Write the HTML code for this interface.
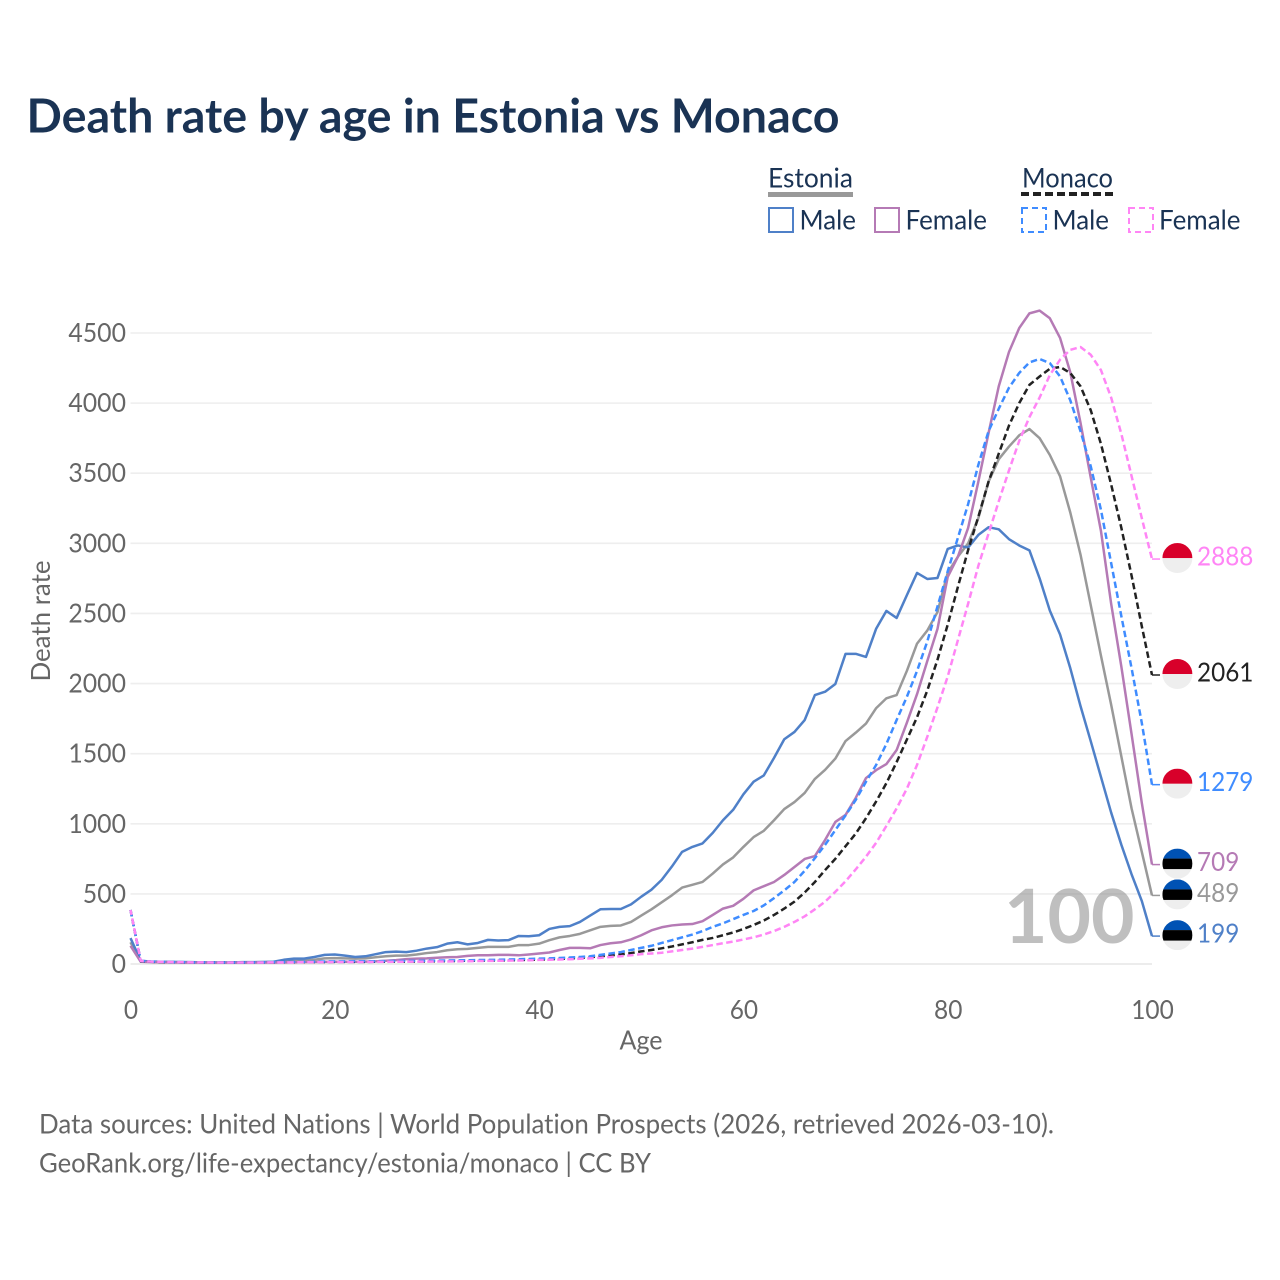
<!DOCTYPE html>
<html lang="en">
<head>
<meta charset="utf-8">
<title>Death rate by age in Estonia vs Monaco</title>
<style>
html,body{margin:0;padding:0;background:#fff;}
svg{display:block;}
text{font-family:"Lato","Carlito","Liberation Sans",sans-serif;font-variant-ligatures:none;}
</style>
</head>
<body>
<svg id="chart" xmlns="http://www.w3.org/2000/svg" width="1280" height="1280" viewBox="0 0 1280 1280">
  <text x="26.5" y="132.5" font-size="47" font-weight="700" fill="#1a3354" textLength="813" lengthAdjust="spacingAndGlyphs">Death rate by age in Estonia vs Monaco</text>

  <g>
    <g>
      <text x="768" y="187.5" font-size="27" fill="#1a3354" textLength="85" lengthAdjust="spacingAndGlyphs">Estonia</text>
      <rect x="768" y="192" width="85" height="5" fill="#999999"/>
    </g>
    <g>
      <text x="1022" y="187.5" font-size="27" fill="#1a3354" textLength="91" lengthAdjust="spacingAndGlyphs">Monaco</text>
      <line x1="1021" y1="194" x2="1113" y2="194" stroke="#222222" stroke-width="4" stroke-dasharray="8 4"/>
    </g>
    <g>
      <rect x="769" y="208" width="24" height="24" fill="none" stroke="#4f80c8" stroke-width="2"/>
      <text x="799.5" y="229.5" font-size="27" fill="#1a3354" textLength="56.5" lengthAdjust="spacingAndGlyphs">Male</text>
    </g>
    <g>
      <rect x="875" y="208" width="24" height="24" fill="none" stroke="#b57ab5" stroke-width="2"/>
      <text x="905.5" y="229.5" font-size="27" fill="#1a3354" textLength="81.5" lengthAdjust="spacingAndGlyphs">Female</text>
    </g>
    <g>
      <rect x="1022" y="208" width="24" height="24" fill="none" stroke="#3f8cff" stroke-width="2" stroke-dasharray="6 4"/>
      <text x="1052.5" y="229.5" font-size="27" fill="#1a3354" textLength="56.5" lengthAdjust="spacingAndGlyphs">Male</text>
    </g>
    <g>
      <rect x="1129" y="208" width="24" height="24" fill="none" stroke="#ff85f5" stroke-width="2" stroke-dasharray="6 4"/>
      <text x="1159" y="229.5" font-size="27" fill="#1a3354" textLength="81.5" lengthAdjust="spacingAndGlyphs">Female</text>
    </g>
  </g>

  <g id="grid"></g>
  <text x="1004" y="943" font-size="75" font-weight="700" fill="#808080" fill-opacity="0.5">100</text>
  <g id="yTicks"></g>
  <g id="xTicks"></g>
  <text transform="translate(50 621) rotate(-90)" text-anchor="middle" font-size="26" fill="#666666" textLength="121" lengthAdjust="spacingAndGlyphs">Death rate</text>
  <text x="641" y="1049.5" text-anchor="middle" font-size="26" fill="#666666" textLength="43" lengthAdjust="spacingAndGlyphs">Age</text>
  <g id="series"></g>
  <g id="ends"></g>

  <text x="39" y="1133.5" font-size="27" fill="#666666" textLength="1015" lengthAdjust="spacingAndGlyphs">Data sources: United Nations | World Population Prospects (2026, retrieved 2026-03-10).</text>
  <text x="39" y="1172.5" font-size="27" fill="#666666" textLength="612" lengthAdjust="spacingAndGlyphs">GeoRank.org/life-expectancy/estonia/monaco | CC BY</text>
</svg>
<script>
const ages = [
  0,1,2,3,4,5,6,7,8,9,
  10,11,12,13,14,15,16,17,18,19,
  20,21,22,23,24,25,26,27,28,29,
  30,31,32,33,34,35,36,37,38,39,
  40,41,42,43,44,45,46,47,48,49,
  50,51,52,53,54,55,56,57,58,59,
  60,61,62,63,64,65,66,67,68,69,
  70,71,72,73,74,75,76,77,78,79,
  80,81,82,83,84,85,86,87,88,89,
  90,91,92,93,94,95,96,97,98,99,
  100
];
const estoniaAll = [
  155,20,16,14,13,12,11,11,10,10,
  10,11,12,13,14,18,22,25,30,40,
  42,40,38,40,48,55,60,60,68,78,
  85,98,105,108,115,122,122,122,135,135,
  145,170,190,200,215,240,265,272,275,300,
  345,390,440,490,545,565,585,645,710,760,
  835,905,950,1025,1105,1155,1220,1320,1385,1465,
  1590,1650,1715,1825,1895,1918,2090,2285,2378,2510,
  2790,2905,3000,3180,3440,3600,3690,3770,3815,3750,
  3630,3478,3220,2920,2560,2200,1850,1480,1110,800,
  489
];
const estoniaMale = [
  185,22,18,16,15,14,13,12,12,12,
  12,13,13,14,16,30,38,38,50,65,
  68,60,50,55,70,85,88,85,95,110,
  120,145,155,140,150,172,168,170,200,198,
  205,250,265,270,300,345,390,392,392,425,
  480,530,600,695,800,835,860,935,1025,1100,
  1210,1300,1345,1470,1603,1655,1740,1918,1942,1997,
  2212,2212,2190,2392,2518,2468,2630,2789,2746,2753,
  2960,2985,2970,3060,3115,3100,3030,2985,2950,2750,
  2520,2350,2110,1840,1590,1335,1080,850,640,450,
  199
];
const estoniaFemale = [
  130,16,13,12,11,10,10,10,9,9,
  9,9,10,10,10,11,12,13,14,15,
  16,16,16,17,19,23,28,35,38,40,
  45,48,50,58,62,62,65,65,62,68,
  75,82,100,115,115,112,135,148,155,175,
  205,240,262,275,282,285,305,350,395,415,
  465,525,555,585,635,692,749,770,885,1013,
  1063,1185,1326,1383,1426,1526,1720,1925,2160,2390,
  2760,2905,3110,3440,3787,4120,4365,4535,4640,4660,
  4605,4465,4220,3860,3470,3090,2570,2120,1640,1150,
  709
];
const monacoAll = [
  385,20,16,14,13,12,12,11,11,11,
  11,11,12,12,12,13,13,14,14,14,
  15,15,15,15,16,16,17,17,18,19,
  20,21,22,23,24,25,26,27,28,30,
  32,34,37,40,44,48,55,62,68,78,
  90,100,112,125,140,155,172,186,205,225,
  250,278,310,350,395,445,510,585,670,750,
  840,930,1040,1160,1290,1440,1600,1760,1950,2170,
  2420,2690,2952,3190,3440,3640,3840,4000,4130,4190,
  4245,4258,4215,4120,3950,3710,3420,3110,2770,2410,
  2061
];
const monacoMale = [
  385,22,18,16,14,13,12,12,11,11,
  11,11,12,12,13,14,15,16,17,18,
  19,19,20,20,20,21,21,22,22,23,
  24,25,26,27,28,29,30,32,34,36,
  38,40,43,46,50,55,65,75,85,100,
  115,130,150,170,190,210,235,265,290,320,
  350,378,418,470,525,585,665,755,850,955,
  1060,1170,1300,1420,1570,1740,1905,2090,2300,2550,
  2800,3040,3280,3560,3800,3960,4110,4215,4290,4315,
  4285,4190,4020,3800,3550,3240,2860,2480,2110,1720,
  1279
];
const monacoFemale = [
  385,22,17,15,14,13,12,12,11,11,
  11,11,11,11,12,12,12,13,13,13,
  14,14,14,14,15,15,16,16,17,17,
  18,18,19,20,21,22,23,24,25,27,
  29,30,32,34,37,40,44,50,55,62,
  70,75,80,90,100,110,122,135,148,160,
  175,190,210,235,265,300,340,390,445,515,
  590,675,765,865,985,1110,1250,1420,1620,1830,
  2050,2310,2570,2840,3070,3300,3520,3730,3900,4040,
  4200,4310,4380,4400,4345,4236,4040,3780,3480,3180,
  2888
];
const yTickValues = [0,500,1000,1500,2000,2500,3000,3500,4000,4500];
const xTickValues = [0,20,40,60,80,100];

const SVGNS = 'http://www.w3.org/2000/svg';
const xScale = function (age) { return 130.5 + age * 10.215; };
const yScale = function (value) { return 964 - value * 0.14022; };

function make(tag, parent, attrs) {
  const el = document.createElementNS(SVGNS, tag);
  Object.keys(attrs).forEach(function (k) { el.setAttribute(k, attrs[k]); });
  parent.appendChild(el);
  return el;
}

const gridGroup = document.getElementById('grid');
const yTickGroup = document.getElementById('yTicks');
const xTickGroup = document.getElementById('xTicks');
const seriesGroup = document.getElementById('series');
const endGroup = document.getElementById('ends');

yTickValues.forEach(function (v) {
  const line = make('line', gridGroup, {x1: 130.5, x2: 1152, y1: yScale(v), y2: yScale(v), stroke: v === 0 ? '#e6e6e6' : '#eeeeee', 'stroke-width': 1.6});
  
  
  const label = make('text', yTickGroup, {x: 126, y: yScale(v) + 9, 'text-anchor': 'end', 'font-size': 26, fill: '#666666', textLength: String(v).length * 14.4, lengthAdjust: 'spacingAndGlyphs'});
  label.textContent = v;
  
  
});

xTickValues.forEach(function (v) {
  const label = make('text', xTickGroup, {x: xScale(v) + 0.5, y: 1019, 'text-anchor': 'middle', 'font-size': 26, fill: '#666666', textLength: String(v).length * 14.2, lengthAdjust: 'spacingAndGlyphs'});
  label.textContent = v;
  
  
});

const seriesList = [
  {key: 'estonia-all', values: estoniaAll, color: '#999999', dash: '', offset: 0, flag: 'ee'},
  {key: 'estonia-male', values: estoniaMale, color: '#4f80c8', dash: '', offset: 0, flag: 'ee'},
  {key: 'estonia-female', values: estoniaFemale, color: '#b57ab5', dash: '', offset: 0, flag: 'ee'},
  {key: 'monaco-all', values: monacoAll, color: '#222222', dash: '6.5 3.5', offset: 0, flag: 'mc'},
  {key: 'monaco-male', values: monacoMale, color: '#3f8cff', dash: '6.5 3.5', offset: 0, flag: 'mc'},
  {key: 'monaco-female', values: monacoFemale, color: '#ff85f5', dash: '6.5 3.5', offset: 1.5, flag: 'mc'}
];

let clipCount = 0;
const defs = make('defs', document.getElementById('chart'), {});

seriesList.forEach(function (s) {
  const d = s.values.map(function (v, i) {
    return (i ? 'L' : 'M') + xScale(ages[i]).toFixed(2) + ' ' + yScale(v).toFixed(2);
  }).join(' ');
  const path = make('path', seriesGroup, {d: d, fill: 'none', stroke: s.color, 'stroke-width': 2.5, 'stroke-linejoin': 'round'});
  if (s.dash) {
    path.setAttribute('stroke-dasharray', s.dash);
    path.setAttribute('stroke-dashoffset', s.offset);
  }
  
  

  const last = s.values[s.values.length - 1];
  const ey = yScale(last);
  const leader = make('line', endGroup, {x1: 1152, x2: 1160, y1: ey, y2: ey, stroke: s.color, 'stroke-width': 1.5});
  
  

  const cx = 1177.4;
  const cyy = ey - 1;
  const r = 15;
  clipCount += 1;
  const clip = make('clipPath', defs, {id: 'flagClip' + clipCount});
  make('circle', clip, {cx: cx, cy: cyy, r: r});
  const flag = make('g', endGroup, {'clip-path': 'url(#flagClip' + clipCount + ')'});
  
  
  make('rect', flag, {x: cx - r, y: cyy - r, width: 2 * r, height: 2 * r, fill: '#eeeeee'});
  if (s.flag === 'mc') {
    make('rect', flag, {x: cx - r, y: cyy - r, width: 2 * r, height: r, fill: '#d8002a'});
  } else {
    make('rect', flag, {x: cx - r, y: cyy - r, width: 2 * r, height: 10, fill: '#0052b4'});
    make('rect', flag, {x: cx - r, y: cyy - r + 10, width: 2 * r, height: 10.5, fill: '#000000'});
  }

  const label = make('text', endGroup, {x: 1197, y: ey + 6.5, 'font-size': 26, fill: s.color, textLength: String(last).length * 14.1, lengthAdjust: 'spacingAndGlyphs'});
  label.textContent = last;
  
  
});
</script>
</body>
</html>
